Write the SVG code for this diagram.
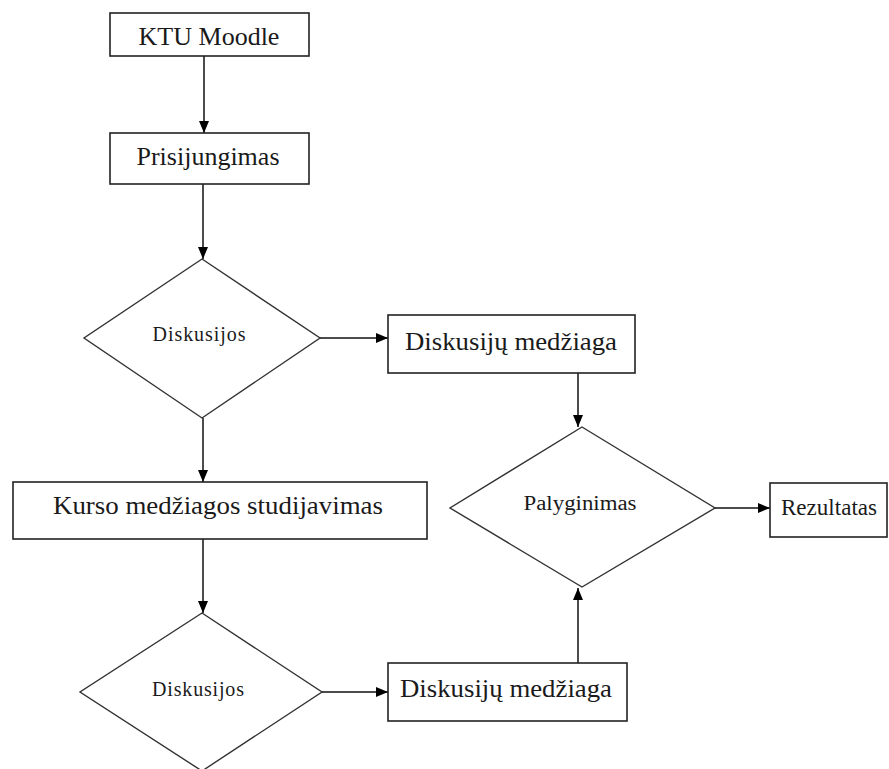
<svg xmlns="http://www.w3.org/2000/svg" width="889" height="769" viewBox="0 0 889 769">
<defs>
<style>
.box{fill:#fff;stroke:#222;stroke-width:1.6}
.dia{fill:#fff;stroke:#333;stroke-width:1.4}
.t{font-family:"Liberation Serif","Times New Roman",serif;fill:#1a1a1a;text-anchor:middle}
.big{font-size:26px}
.small{font-size:20px}
.edge{stroke:#111;stroke-width:1.5;fill:none;marker-end:url(#arr)}
</style>
<marker id="arr" markerUnits="userSpaceOnUse" markerWidth="12" markerHeight="12" viewBox="0 0 12 12" refX="12" refY="6" orient="auto">
<path d="M0,1 L12,6 L0,11 Z" fill="#000"/>
</marker>
</defs>
<rect width="889" height="769" fill="#fff"/>
<g id="connectors">
<line class="edge" x1="204" y1="56" x2="204" y2="133"/>
<line class="edge" x1="203" y1="184" x2="203" y2="259"/>
<line class="edge" x1="320" y1="338" x2="388" y2="338"/>
<line class="edge" x1="203" y1="418" x2="203" y2="482"/>
<line class="edge" x1="578" y1="373" x2="578" y2="427"/>
<line class="edge" x1="715" y1="508" x2="770" y2="508"/>
<line class="edge" x1="203" y1="539" x2="203" y2="613"/>
<line class="edge" x1="322" y1="692" x2="388" y2="692"/>
<line class="edge" x1="578" y1="663" x2="578" y2="588"/>
</g>
<g id="ktu">
<rect class="box" x="110" y="13" width="199" height="43"/>
<text class="t big" x="209" y="45">KTU Moodle</text>
</g>
<g id="prisijungimas">
<rect class="box" x="110" y="133" width="199" height="51"/>
<text class="t big" x="208" y="165">Prisijungimas</text>
</g>
<g id="diskusijos1">
<polygon class="dia" points="202,259 320,338 202,418 84,338"/>
<text class="t small" x="199" y="341" textLength="93" lengthAdjust="spacing">Diskusijos</text>
</g>
<g id="medziaga1">
<rect class="box" x="388" y="315" width="247" height="58"/>
<text class="t big" x="511" y="350" textLength="212" lengthAdjust="spacingAndGlyphs">Diskusijų medžiaga</text>
</g>
<g id="kurso">
<rect class="box" x="13" y="482" width="414" height="57"/>
<text class="t big" x="218" y="514" textLength="330" lengthAdjust="spacingAndGlyphs">Kurso medžiagos studijavimas</text>
</g>
<g id="palyginimas">
<polygon class="dia" points="582,427 715,508 582,587 450,508"/>
<text class="t small" x="580" y="510" textLength="113" lengthAdjust="spacingAndGlyphs">Palyginimas</text>
</g>
<g id="rezultatas">
<rect class="box" x="770" y="483" width="117" height="54"/>
<text class="t" x="829" y="515" font-size="24" textLength="96" lengthAdjust="spacingAndGlyphs">Rezultatas</text>
</g>
<g id="diskusijos2">
<polygon class="dia" points="202,613 322,692 202,771 80,692"/>
<text class="t small" x="198" y="696" textLength="92" lengthAdjust="spacing">Diskusijos</text>
</g>
<g id="medziaga2">
<rect class="box" x="388" y="663" width="239" height="58"/>
<text class="t big" x="506" y="697" textLength="212" lengthAdjust="spacingAndGlyphs">Diskusijų medžiaga</text>
</g>
</svg>
